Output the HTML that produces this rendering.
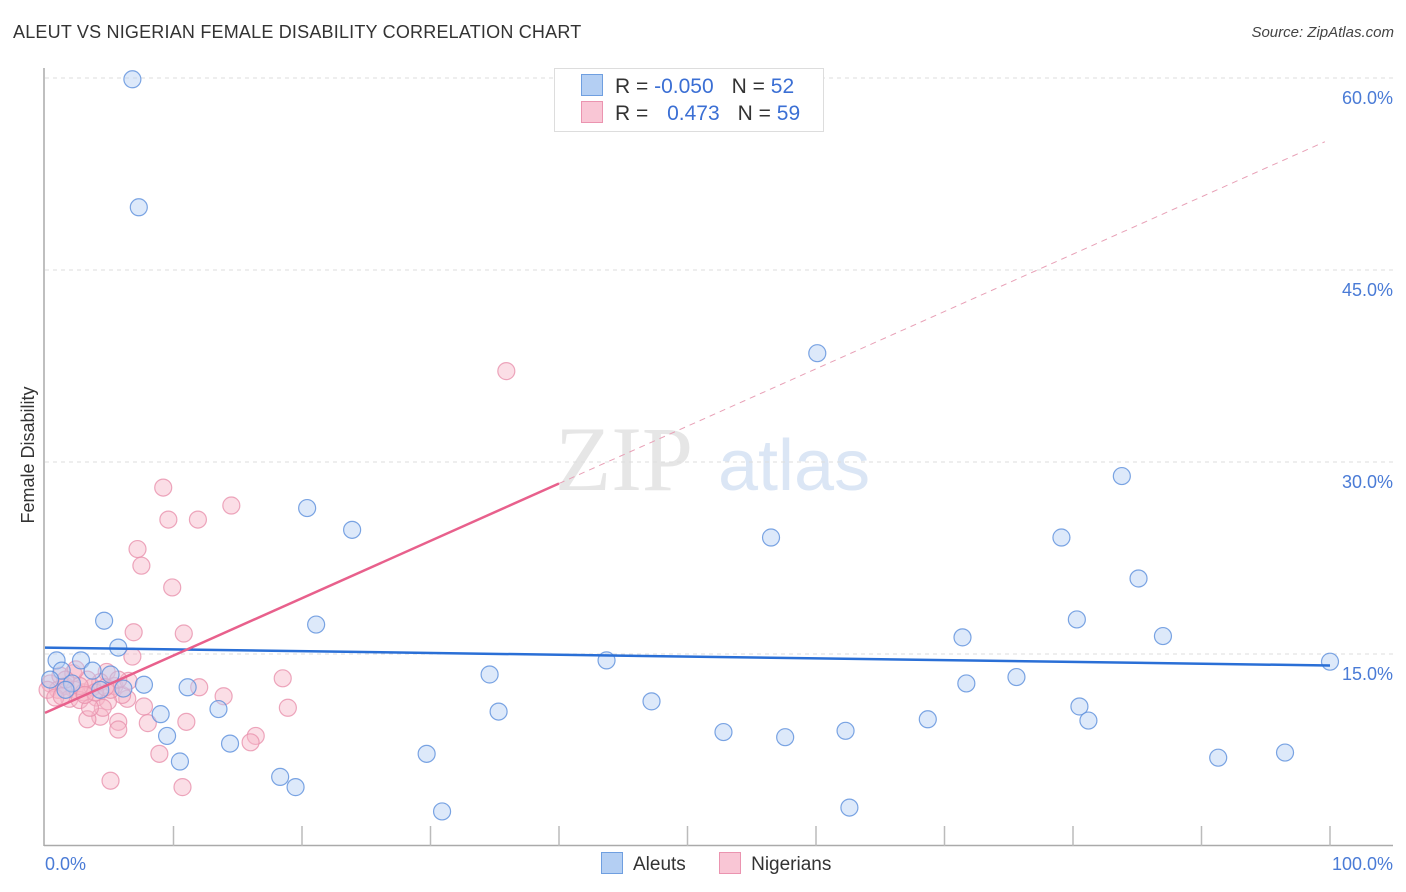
<!DOCTYPE html>
<html><head><meta charset="utf-8"><style>
body{margin:0;background:#fff;font-family:"Liberation Sans",sans-serif;}
#wrap{position:relative;width:1406px;height:892px;overflow:hidden;}
</style></head><body>
<div id="wrap">
<div style="position:absolute;left:13px;top:22px;font-size:18px;color:#333;letter-spacing:0.2px">ALEUT VS NIGERIAN FEMALE DISABILITY CORRELATION CHART</div>
<div style="position:absolute;right:12px;top:24px;font-size:15px;color:#444;font-style:italic">Source: ZipAtlas.com</div>
<svg id="svg" width="1406" height="892" style="position:absolute;left:0;top:0"></svg>
</div>
<script>
const blueX=[6.8,7.3,60.1,83.8,20.4,23.9,56.5,79.1,85.1,4.6,21.1,80.3,71.4,87.0,5.7,100,43.7,0.9,2.8,1.3,3.7,34.6,75.6,2.1,7.7,11.1,6.1,71.7,47.2,80.5,13.5,35.3,9.0,81.2,68.7,9.5,52.8,62.3,57.6,14.4,29.7,10.5,96.5,91.3,18.3,19.5,62.6,30.9,0.4,1.6,4.3,5.1];
const blueY=[59.9,49.9,38.5,28.9,26.4,24.7,24.1,24.1,20.9,17.6,17.3,17.7,16.3,16.4,15.5,14.4,14.5,14.5,14.5,13.7,13.7,13.4,13.2,12.7,12.6,12.4,12.3,12.7,11.3,10.9,10.7,10.5,10.3,9.8,9.9,8.6,8.9,9.0,8.5,8.0,7.2,6.6,7.3,6.9,5.4,4.6,3.0,2.7,13.0,12.2,12.2,13.4];
const pinkX=[35.9,9.2,14.5,9.6,11.9,7.2,7.5,9.9,6.9,10.8,6.8,4.8,18.5,12.0,13.9,18.9,7.7,11.0,8.0,5.7,4.3,3.3,5.7,16.4,16.0,8.9,5.1,10.7,6.4,0.4,1.0,1.6,2.3,3.0,3.7,4.3,5.4,6.0,0.2,1.2,2.2,3.3,4.0,4.9,1.9,0.8,2.7,4.5,6.5,5.1,3.5,2.4,1.3,5.7,3.9,2.7,4.7,1.6,3.1];
const pinkY=[37.1,28.0,26.6,25.5,25.5,23.2,21.9,20.2,16.7,16.6,14.8,13.6,13.1,12.4,11.7,10.8,10.9,9.7,9.6,9.7,10.1,9.9,9.1,8.6,8.1,7.2,5.1,4.6,11.5,12.7,12.2,12.5,12.2,12.0,12.4,12.8,12.5,11.8,12.2,13.3,13.5,13.0,11.6,11.3,11.5,11.6,11.4,10.8,12.9,12.2,10.8,13.8,11.7,13.0,12.0,12.5,12.4,13.0,11.8];
const yTicks=[15,30,45,60];
const blueLine=[15.5,14.1];
const pinkLine=[10.4,55.2];
const pinkSolidEnd=40;
const NS="http://www.w3.org/2000/svg";
const svg=document.getElementById('svg');
const X=v=>45+v*12.85, Y=v=>846-v*12.8;
function el(tag,attrs,parent){const e=document.createElementNS(NS,tag);for(const k in attrs)e.setAttribute(k,attrs[k]);(parent||svg).appendChild(e);return e;}
let wm=el('text',{x:555,y:490,'font-size':92,'font-family':'Liberation Serif,serif',fill:'#e6e6e6'});wm.textContent='ZIP';


let wm2=el('text',{x:718,y:490,'font-size':72,'font-family':'Liberation Sans,sans-serif',fill:'#dbe6f5'});wm2.textContent='atlas';


yTicks.forEach(t=>{
 const g=el('line',{x1:45,x2:1393,y1:Y(t),y2:Y(t),stroke:'#ddd','stroke-dasharray':'4,4'});
 
 
 const tx=el('text',{x:1393,y:Y(t)+26,'text-anchor':'end','font-size':18,fill:'#4a7bd6'});tx.textContent=t.toFixed(1)+'%';
 
 
});
el('line',{x1:44,x2:44,y1:68,y2:846,stroke:'#aaa','stroke-width':1.5});
el('line',{x1:44,x2:1393,y1:845.5,y2:845.5,stroke:'#aaa','stroke-width':1.5});
for(let i=1;i<=10;i++){el('line',{x1:X(i*10),x2:X(i*10),y1:826,y2:846,stroke:'#bbb','stroke-width':1.5});}
function dots(xs,ys,fill,stroke,name){xs.forEach((v,i)=>{const c=el('circle',{cx:X(v),cy:Y(ys[i]),r:8.5,fill:fill,'fill-opacity':0.45,stroke:stroke,'stroke-opacity':0.8,'stroke-width':1.2});
 
 });}
dots(pinkX,pinkY,'#f7b6c8','#e991ad','nigerian-point');
dots(blueX,blueY,'#b4cff3','#5b8fdc','aleut-point');
const bl=el('line',{x1:X(0),y1:Y(blueLine[0]),x2:X(100),y2:Y(blueLine[1]),stroke:'#2a6fd6','stroke-width':2.5});


const slope=(pinkLine[1]-pinkLine[0])/100;
const pl=el('line',{x1:X(0),y1:Y(pinkLine[0]),x2:X(pinkSolidEnd),y2:Y(pinkLine[0]+slope*pinkSolidEnd),stroke:'#e8608c','stroke-width':2.5});


const pd=el('line',{x1:X(pinkSolidEnd),y1:Y(pinkLine[0]+slope*pinkSolidEnd),x2:X(99.6),y2:Y(pinkLine[0]+slope*99.6),stroke:'#e8a0b6','stroke-width':1,'stroke-dasharray':'6,5'});


let t0=el('text',{x:45,y:870,'font-size':18,fill:'#4a7bd6'});t0.textContent='0.0%';


let t1=el('text',{x:1393,y:870,'text-anchor':'end','font-size':18,fill:'#4a7bd6'});t1.textContent='100.0%';


let yl=el('text',{x:0,y:0,'font-size':18,fill:'#333',transform:'translate(34,455) rotate(-90)','text-anchor':'middle'});yl.textContent='Female Disability';


</script>
<div style="position:absolute;left:554px;top:68px;width:268px;height:62px;border:1px solid #ddd;background:#fff;font-size:21px;color:#333">
 <div style="position:absolute;left:26px;top:5px;white-space:nowrap"><span style="display:inline-block;width:20px;height:20px;background:#b4cff3;border:1px solid #6f9fe0;vertical-align:-3px"></span><span style="margin-left:12px">R = </span><span style="color:#3b6fd4">-0.050</span><span style="margin-left:18px">N = </span><span style="color:#3b6fd4">52</span></div>
 <div style="position:absolute;left:26px;top:32px;white-space:nowrap"><span style="display:inline-block;width:20px;height:20px;background:#f9c6d5;border:1px solid #eb94b0;vertical-align:-3px"></span><span style="margin-left:12px">R = </span><span style="color:#3b6fd4;margin-left:13px">0.473</span><span style="margin-left:18px">N = </span><span style="color:#3b6fd4">59</span></div>
</div>
<div style="position:absolute;left:601px;top:852px;font-size:19px;color:#333;white-space:nowrap">
 <span><span style="display:inline-block;width:20px;height:20px;background:#b4cff3;border:1px solid #6f9fe0;vertical-align:-4px"></span><span style="margin-left:10px">Aleuts</span></span>
 <span style="margin-left:28px"><span style="display:inline-block;width:20px;height:20px;background:#f9c6d5;border:1px solid #eb94b0;vertical-align:-4px"></span><span style="margin-left:10px">Nigerians</span></span>
</div>
</body></html>
